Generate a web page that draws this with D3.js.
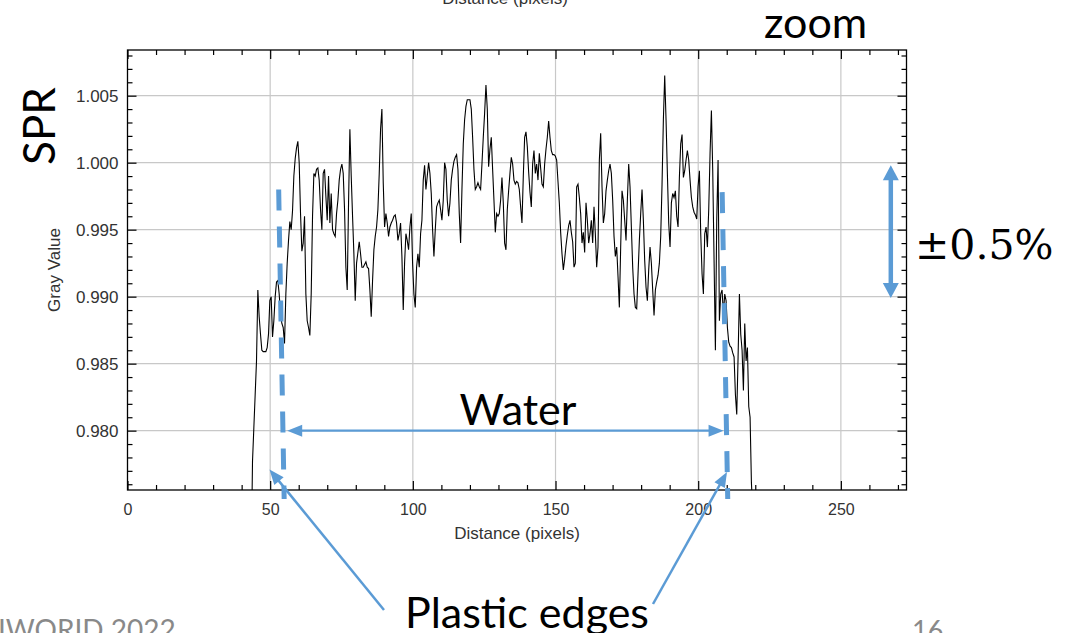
<!DOCTYPE html>
<html>
<head>
<meta charset="utf-8">
<script src="https://cdn.jsdelivr.net/npm/d3@7"></script>
<style>
  body { margin: 0; background: #fff; }
  svg { display: block; }
  .axis text { font-family: "Liberation Sans", Arial, sans-serif; fill: #333; }
  .slide { font-family: Lato, "Open Sans", sans-serif; fill: #000; }
</style>
</head>
<body>
<svg id="chart" width="1081" height="633"></svg>
<script>
// profile sampling (distance in pixels)
var profileStart = 43.34;
var profileStep = 0.4675;

// gray value profile
var grayValues = [
  0.9700, 0.9777, 0.9802, 0.9827, 0.9852, 0.9905, 0.9885, 0.9872, 0.9860, 0.9859,
  0.9859, 0.9859, 0.9862, 0.9872, 0.9897, 0.9900, 0.9870, 0.9882, 0.9900, 0.9911,
  0.9912, 0.9902, 0.9887, 0.9880, 0.9877, 0.9865, 0.9902, 0.9925, 0.9942, 0.9956,
  0.9950, 0.9964, 0.9990, 1.0003, 1.0011, 1.0016, 1.0000, 0.9962, 0.9934, 0.9940,
  0.9960, 0.9902, 0.9882, 0.9877, 0.9871, 0.9902, 0.9960, 0.9992, 0.9990, 0.9995,
  0.9996, 0.9987, 0.9965, 0.9950, 0.9992, 0.9995, 0.9975, 0.9957, 0.9990, 0.9955,
  0.9977, 0.9950, 0.9947, 0.9945, 0.9962, 0.9972, 0.9987, 0.9995, 0.9999, 0.9992,
  0.9965, 0.9922, 0.9905, 0.9970, 1.0025, 0.9990, 0.9960, 0.9932, 0.9897, 0.9925,
  0.9933, 0.9941, 0.9932, 0.9922, 0.9922, 0.9924, 0.9926, 0.9922, 0.9921, 0.9905,
  0.9885, 0.9912, 0.9935, 0.9945, 0.9952, 0.9965, 0.9992, 1.0025, 1.0040, 0.9985,
  0.9952, 0.9962, 0.9955, 0.9945, 0.9952, 0.9955, 0.9957, 0.9960, 0.9961, 0.9955,
  0.9942, 0.9947, 0.9955, 0.9930, 0.9890, 0.9925, 0.9947, 0.9942, 0.9935, 0.9952,
  0.9962, 0.9925, 0.9902, 0.9892, 0.9922, 0.9932, 0.9922, 0.9947, 0.9957, 0.9987,
  0.9998, 0.9980, 0.9990, 1.0000, 0.9992, 0.9977, 0.9950, 0.9930, 0.9950, 0.9967,
  0.9970, 0.9972, 0.9965, 0.9957, 0.9972, 1.0000, 0.9995, 0.9972, 0.9960, 0.9970,
  0.9987, 0.9995, 1.0001, 1.0004, 1.0006, 0.9995, 0.9962, 0.9940, 0.9980, 1.0014,
  1.0032, 1.0042, 1.0047, 1.0047, 1.0047, 1.0040, 1.0019, 0.9995, 0.9980, 0.9982,
  0.9985, 0.9982, 0.9980, 0.9999, 1.0019, 1.0037, 1.0058, 1.0040, 0.9997, 1.0010,
  1.0019, 0.9995, 0.9972,
  0.9948, 0.9962, 0.9960, 0.9962, 0.9972, 0.9989, 0.9970, 0.9940, 0.9935, 0.9965,
  0.9979, 0.9992, 1.0004, 0.9999, 0.9987, 0.9984, 0.9986, 0.9985, 0.9980, 0.9967,
  0.9955, 0.9990, 1.0019, 1.0023, 1.0012, 0.9993, 0.9978, 0.9967, 0.9999, 1.0009,
  0.9992, 0.9999, 0.9987, 1.0007, 0.9996, 0.9984, 0.9982, 0.9999, 1.0010, 1.0019,
  1.0031, 1.0019, 1.0009, 1.0006, 1.0006, 1.0005, 1.0002, 0.9986, 0.9970, 0.9948,
  0.9932, 0.9920, 0.9928, 0.9938, 0.9946, 0.9953, 0.9957, 0.9948, 0.9941, 0.9922,
  0.9925, 0.9982, 0.9984, 0.9974, 0.9962, 0.9940, 0.9948, 0.9933, 0.9970, 0.9957,
  0.9940, 0.9947, 0.9957, 0.9940, 0.9967, 0.9947, 0.9922, 0.9937, 1.0002, 1.0022,
  0.9982, 0.9955, 0.9962, 0.9979, 0.9987, 0.9994, 0.9999, 0.9992, 0.9972, 0.9945,
  0.9930, 0.9937, 0.9915, 0.9892, 0.9937, 0.9979, 0.9972, 0.9957, 0.9942, 0.9972,
  0.9999, 0.9982, 0.9952, 0.9922, 0.9902, 0.9892, 0.9891, 0.9917, 0.9942, 0.9962,
  0.9980, 0.9957, 0.9927, 0.9907, 0.9897, 0.9920, 0.9937, 0.9925, 0.9905, 0.9886,
  0.9905, 0.9911, 0.9916, 0.9925, 0.9945, 0.9984, 1.0032, 1.0065, 1.0032, 0.9992,
  0.9955, 0.9937, 0.9970, 0.9977, 0.9974, 0.9979, 0.9960, 0.9952, 0.9989, 1.0014,
  1.0021, 0.9989, 0.9994, 1.0002, 1.0009, 1.0002, 0.9987, 0.9974, 0.9967, 0.9963,
  0.9961, 0.9958, 0.9982, 0.9994, 0.9947, 0.9917, 0.9902, 0.9947, 0.9952, 0.9937,
  0.9965, 1.0007, 1.0039, 0.9994, 0.9927, 0.9860, 0.9957, 1.0002, 0.9882, 0.9902,
  0.9905, 0.9887, 0.9902, 0.9897, 0.9877, 0.9866, 0.9863, 0.9862, 0.9858, 0.9855,
  0.9827, 0.9812,
  0.9855, 0.9902, 0.9872, 0.9860, 0.9830, 0.9880, 0.9852, 0.9862, 0.9818, 0.9810,
  0.9761, 0.9740
];

var xMajorTicks = [0, 50, 100, 150, 200, 250];
var yMajorTicks = [0.980, 0.985, 0.990, 0.995, 1.000, 1.005];

// plastic edges and water region (distance, gray value)
var leftEdge = [[52.98, 0.9980], [54.9, 0.9749]];
var rightEdge = [[208.4, 0.9978], [210.35, 0.9749]];
var waterSpan = [55.96, 208.9];
var waterLevel = 0.980;
var bandSpan = [0.9998, 0.9899];
var bandX = 267.5;

var blue = "#5b9bd5";

//begin: layout conf.
var margin = {top: 50, right: 174.5, bottom: 143, left: 127.5},
    svgWidth = 1081,
    svgHeight = 633,
    plotRight = svgWidth - margin.right,
    plotBottom = svgHeight - margin.bottom;
//end: layout conf.

var svg = d3.select("#chart");

var x = d3.scaleLinear().domain([0, 273]).range([margin.left, plotRight]);
var y = d3.scaleLinear().domain([0.97557, 1.00841]).range([plotBottom, margin.top]);

svg.append("defs").append("clipPath")
    .attr("id", "plotClip")
  .append("rect")
    .attr("x", margin.left)
    .attr("y", margin.top)
    .attr("width", plotRight - margin.left)
    .attr("height", plotBottom - margin.top);

// grid
var grid = svg.append("g").attr("class", "grid");
grid.selectAll(".vgrid")
    .data(xMajorTicks.filter(function(d){ return d > 0; }))
    .enter().append("line")
    .attr("x1", function(d){ return x(d); })
    .attr("x2", function(d){ return x(d); })
    .attr("y1", margin.top)
    .attr("y2", plotBottom)
    .attr("stroke", "#c8c8c8")
    .attr("stroke-width", 1.2);
grid.selectAll(".hgrid")
    .data(yMajorTicks)
    .enter().append("line")
    .attr("x1", margin.left)
    .attr("x2", plotRight)
    .attr("y1", function(d){ return y(d); })
    .attr("y2", function(d){ return y(d); })
    .attr("stroke", "#c8c8c8")
    .attr("stroke-width", 1.2);

// profile line
var profile = grayValues.map(function(v, i){ return [profileStart + i*profileStep, v]; });
var line = d3.line()
    .x(function(d){ return x(d[0]); })
    .y(function(d){ return y(d[1]); });

svg.append("path")
    .datum(profile)
    .attr("clip-path", "url(#plotClip)")
    .attr("d", line)
    .attr("fill", "none")
    .attr("stroke", "#000")
    .attr("stroke-width", 1.1);

// axes with inward ticks
var xMinor = d3.range(0, 271, 10).filter(function(d){ return d % 50 !== 0; });
var yMinor = d3.range(976, 1009).map(function(d){ return d/1000; })
    .filter(function(d){ return yMajorTicks.indexOf(+d.toFixed(3)) < 0; });

function styleAxis(g) {
  g.select(".domain").remove();
  g.selectAll(".tick line").attr("stroke", "#000").attr("stroke-width", 1.2);
}

svg.append("g").attr("class", "axis")
    .attr("transform", "translate(0," + plotBottom + ")")
    .call(d3.axisBottom(x).tickValues(xMajorTicks).tickSize(-9).tickPadding(14).tickFormat(d3.format("d")))
    .call(styleAxis)
    .selectAll("text").style("font-size", "16px");
svg.append("g").attr("class", "axis")
    .attr("transform", "translate(0," + plotBottom + ")")
    .call(d3.axisBottom(x).tickValues(xMinor).tickSize(-5).tickFormat(""))
    .call(styleAxis);
svg.append("g").attr("class", "axis")
    .attr("transform", "translate(0," + margin.top + ")")
    .call(d3.axisTop(x).tickValues(xMajorTicks).tickSize(-9).tickFormat(""))
    .call(styleAxis);
svg.append("g").attr("class", "axis")
    .attr("transform", "translate(0," + margin.top + ")")
    .call(d3.axisTop(x).tickValues(xMinor).tickSize(-5).tickFormat(""))
    .call(styleAxis);

svg.append("g").attr("class", "axis")
    .attr("transform", "translate(" + margin.left + ",0)")
    .call(d3.axisLeft(y).tickValues(yMajorTicks).tickSize(-9).tickPadding(9).tickFormat(d3.format(".3f")))
    .call(styleAxis)
    .selectAll("text").style("font-size", "17px");
svg.append("g").attr("class", "axis")
    .attr("transform", "translate(" + margin.left + ",0)")
    .call(d3.axisLeft(y).tickValues(yMinor).tickSize(-5).tickFormat(""))
    .call(styleAxis);
svg.append("g").attr("class", "axis")
    .attr("transform", "translate(" + plotRight + ",0)")
    .call(d3.axisRight(y).tickValues(yMajorTicks).tickSize(-9).tickFormat(""))
    .call(styleAxis);
svg.append("g").attr("class", "axis")
    .attr("transform", "translate(" + plotRight + ",0)")
    .call(d3.axisRight(y).tickValues(yMinor).tickSize(-5).tickFormat(""))
    .call(styleAxis);

svg.append("rect")
    .attr("x", margin.left)
    .attr("y", margin.top)
    .attr("width", plotRight - margin.left)
    .attr("height", plotBottom - margin.top)
    .attr("fill", "none")
    .attr("stroke", "#000")
    .attr("stroke-width", 1.3);

// axis titles
var axisTitles = svg.append("g").attr("class", "axis");
axisTitles.append("text")
    .attr("x", (margin.left + plotRight)/2)
    .attr("y", 539)
    .attr("text-anchor", "middle")
    .style("font-size", "17px")
    .text("Distance (pixels)");
axisTitles.append("text")
    .attr("x", 505)
    .attr("y", 4)
    .attr("text-anchor", "middle")
    .style("font-size", "17px")
    .text("Distance (pixels)");
axisTitles.append("text")
    .attr("transform", "translate(60," + (margin.top + plotBottom)/2 + ") rotate(-90)")
    .attr("text-anchor", "middle")
    .style("font-size", "17px")
    .text("Gray Value");

// annotations
function arrowHead(g, tip, from, len, wid) {
  var dx = tip[0] - from[0], dy = tip[1] - from[1];
  var d = Math.sqrt(dx*dx + dy*dy), ux = dx/d, uy = dy/d;
  var bx = tip[0] - ux*len, by = tip[1] - uy*len;
  g.append("path")
      .attr("d", "M" + tip + "L" + [bx - uy*wid/2, by + ux*wid/2] + "L" + [bx + uy*wid/2, by - ux*wid/2] + "Z")
      .attr("fill", blue);
  return [bx + ux*1, by + uy*1];
}

function arrow(g, a, b, width, len, wid, both) {
  var end = arrowHead(g, b, a, len, wid);
  var start = both ? arrowHead(g, a, b, len, wid) : a;
  g.append("line")
      .attr("x1", start[0]).attr("y1", start[1])
      .attr("x2", end[0]).attr("y2", end[1])
      .attr("stroke", blue)
      .attr("stroke-width", width);
}

var notes = svg.append("g").attr("class", "annotations");

[leftEdge, rightEdge].forEach(function(edge){
  notes.append("line")
      .attr("x1", x(edge[0][0])).attr("y1", y(edge[0][1]))
      .attr("x2", x(edge[1][0])).attr("y2", y(edge[1][1]))
      .attr("stroke", blue)
      .attr("stroke-width", 5)
      .attr("stroke-dasharray", "21 16");
});

arrow(notes, [x(waterSpan[0]), y(waterLevel)], [x(waterSpan[1]), y(waterLevel)], 2.3, 15, 12, true);
arrow(notes, [x(bandX), y(bandSpan[0])], [x(bandX), y(bandSpan[1])], 4.5, 15, 16, true);
arrow(notes, [384, 610], [269.5, 469.5], 2.5, 15, 12, false);
arrow(notes, [653, 604], [727, 472], 2.5, 15, 12, false);

notes.append("text").attr("class", "slide")
    .attr("x", 764).attr("y", 38)
    .style("font-size", "43px")
    .text("zoom");
notes.append("text").attr("class", "slide")
    .attr("transform", "translate(55,126) rotate(-90)")
    .attr("text-anchor", "middle")
    .style("font-size", "44px")
    .text("SPR");
notes.append("text").attr("class", "slide")
    .attr("x", 518).attr("y", 425)
    .attr("text-anchor", "middle")
    .style("font-size", "43px")
    .text("Water");
notes.append("text").attr("class", "slide")
    .attr("x", 405).attr("y", 628)
    .style("font-size", "43px")
    .text("Plastic edges");
notes.append("text")
    .attr("x", 915).attr("y", 259)
    .style("font-family", "'DejaVu Serif', serif")
    .style("font-size", "41px")
    .text("\u00b10.5%");
notes.append("text").attr("class", "slide")
    .attr("x", -2).attr("y", 640)
    .style("font-size", "28px")
    .style("fill", "#898989")
    .text("IWORID 2022");
notes.append("text").attr("class", "slide")
    .attr("x", 912).attr("y", 640)
    .style("font-size", "27px")
    .style("fill", "#898989")
    .text("16");
</script>
</body>
</html>
